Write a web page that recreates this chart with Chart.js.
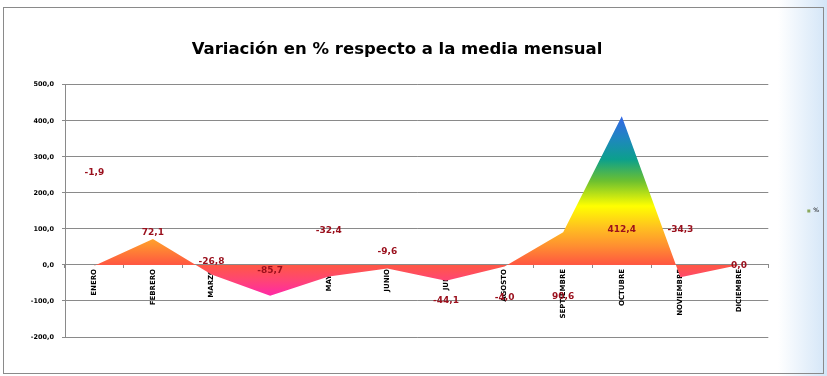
<!DOCTYPE html>
<html lang="es">
<head>
<meta charset="utf-8">
<title>Variación en % respecto a la media mensual</title>
<script src="https://cdn.jsdelivr.net/npm/chart.js@4/dist/chart.umd.min.js"></script>
<style>
  html, body { margin: 0; padding: 0; }
  body {
    width: 827px; height: 376px; overflow: hidden; position: relative;
    background: linear-gradient(to right, #ffffff 0px, #ffffff 778px, #d3e5f7 827px);
  }
  #chart { position: absolute; left: 0; top: 0; }
  #frame {
    position: absolute; left: 3px; top: 7px; width: 819px; height: 365px;
    border: 1px solid #8a8a8a; pointer-events: none;
  }
</style>
</head>
<body>
<canvas id="chart" width="827" height="376"></canvas>
<div id="frame"></div>
<script>
"use strict";

// ── Data ────────────────────────────────────────────────────────────────────
const MONTHS = ["ENERO", "FEBRERO", "MARZO", "ABRIL", "MAYO", "JUNIO", "JULIO",
  "AGOSTO", "SEPTIEMBRE", "OCTUBRE", "NOVIEMBRE", "DICIEMBRE"];
const VARIATION = [-1.9, 72.1, -26.8, -85.7, -32.4, -9.6, -44.1, -4.0, 90.6, 412.4, -34.3, 0.0];
// where Excel left each data label (same units)
const LABEL_AT = [257, 89, 8, -17, 95, 36, -98, -92, -89, 98, 98, -3];
const Y_TICKS = [-200, -100, 0, 100, 200, 300, 400, 500];

// ── Helpers ─────────────────────────────────────────────────────────────────
function fmt(n) {
  return n.toFixed(1).replace(".", ",");
}

function areaFill(context) {
  const chart = context.chart;
  const { chartArea, scales } = chart;
  if (!chartArea) return "#ff6040";
  const top = scales.y.getPixelForValue(Math.max(...VARIATION));
  const bottom = scales.y.getPixelForValue(Math.min(...VARIATION));
  const g = chart.ctx.createLinearGradient(0, top, 0, bottom);
  g.addColorStop(0.00, "#3366e6");
  g.addColorStop(0.12, "#1f86c0");
  g.addColorStop(0.24, "#0ca08c");
  g.addColorStop(0.36, "#6cc030");
  g.addColorStop(0.50, "#ffff00");
  g.addColorStop(0.62, "#ffc020");
  g.addColorStop(0.72, "#ff9030");
  g.addColorStop(0.82, "#ff5a40");
  g.addColorStop(0.91, "#ff4672");
  g.addColorStop(1.00, "#ff28a8");
  return g;
}

// data labels, drawn where the original chart put them
const valueLabels = {
  id: "valueLabels",
  afterDatasetsDraw(chart) {
    const { ctx, scales: { x, y } } = chart;
    ctx.save();
    ctx.font = 'bold 9px "DejaVu Sans"';
    ctx.fillStyle = "#9a0f1c";
    ctx.textAlign = "center";
    ctx.textBaseline = "middle";
    VARIATION.forEach((v, i) => {
      ctx.fillText(fmt(v), x.getPixelForValue(i), y.getPixelForValue(LABEL_AT[i]));
    });
    ctx.restore();
  },
};

// ── Chart ───────────────────────────────────────────────────────────────────
new Chart(document.getElementById("chart"), {
  type: "line",
  data: {
    labels: MONTHS,
    datasets: [{
      label: "%",
      data: VARIATION,
      fill: "origin",
      backgroundColor: areaFill,
      borderWidth: 0,
      pointRadius: 0,
      tension: 0,
    }],
  },
  options: {
    responsive: false,
    animation: false,
    devicePixelRatio: 1,
    // title centred over the framed area, legend box ends past the canvas edge
    layout: { padding: { left: -35, right: -2, top: 0, bottom: 39 } },
    plugins: {
      title: {
        display: true,
        text: "Variación en % respecto a la media mensual",
        color: "#000",
        font: { family: "DejaVu Sans", size: 16.5, weight: "bold" },
        padding: { top: 40, bottom: 25 },
      },
      legend: {
        position: "right",
        fullSize: false,
        labels: {
          boxWidth: 3,
          boxHeight: 3,
          padding: 39,
          color: "#000",
          font: { family: "DejaVu Sans", size: 6 },
          generateLabels(chart) {
            const items = Chart.defaults.plugins.legend.labels.generateLabels(chart);
            items.forEach(it => {
              it.fillStyle = "#8aa85c";
              it.strokeStyle = "#8aa85c";
              it.lineWidth = 0;
            });
            return items;
          },
        },
      },
      tooltip: { enabled: false },
    },
    scales: {
      x: {
        type: "category",
        position: { y: 0 },
        offset: true,
        z: 1,
        grid: {
          display: true,
          offset: true,
          drawOnChartArea: false,
          drawTicks: true,
          tickLength: 3,
          color: "#8a8a8a",
        },
        border: { display: true, color: "#8a8a8a" },
        ticks: {
          autoSkip: false,
          minRotation: 90,
          maxRotation: 90,
          padding: 1,
          color: "#000",
          font: { family: "DejaVu Sans", size: 7, weight: "bold" },
        },
      },
      y: {
        min: Y_TICKS[0],
        max: Y_TICKS[Y_TICKS.length - 1],
        afterFit(scale) { scale.width = 100; },
        afterBuildTicks(scale) { scale.ticks = Y_TICKS.map(v => ({ value: v })); },
        grid: { color: "#8a8a8a", lineWidth: 1, tickLength: 3 },
        border: { color: "#8a8a8a" },
        ticks: {
          padding: 8,
          color: "#000",
          font: { family: "DejaVu Sans", size: 6.5, weight: "bold" },
          callback: v => fmt(v),
        },
      },
    },
  },
  plugins: [valueLabels],
});
</script>
</body>
</html>
